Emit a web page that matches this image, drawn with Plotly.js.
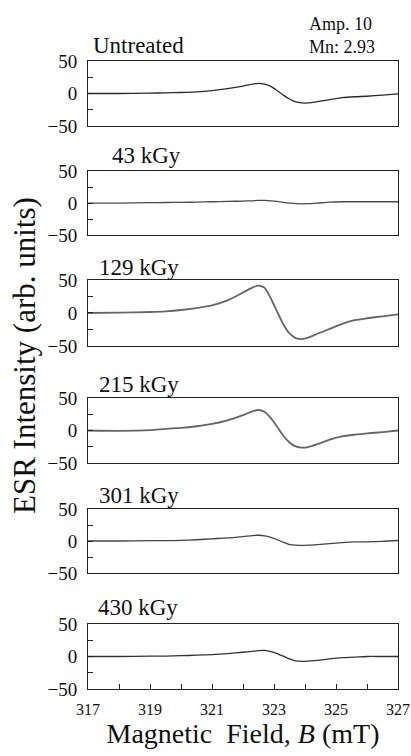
<!DOCTYPE html>
<html>
<head>
<meta charset="utf-8">
<script src="https://cdn.plot.ly/plotly-3.0.1.min.js"></script>
<style>html,body{margin:0;padding:0;background:#fff;}#chart{width:411px;height:756px;}</style>
</head>
<body>
<div id="chart"></div>
<script>
// Magnetic field (mT)
const field = [317, 318, 319, 319.5, 320, 320.5, 321, 321.5, 322, 322.3, 322.5, 322.7, 322.9, 323.1, 323.3, 323.5, 323.7, 323.9, 324.1, 324.4, 324.8, 325.2, 325.6, 326, 326.5, 327];

const panelLabels = ["Untreated", "43 kGy", "129 kGy", "215 kGy", "301 kGy", "430 kGy"];

const untreated = [0, 0, 0.5, 1, 1.5, 2.5, 4.5, 7.5, 11.5, 14.5, 15.5, 14.5, 11, 4.5, -2.5, -8.5, -13, -14.5, -14.5, -12.5, -9.5, -6.5, -5, -4.2, -2.5, -0.5];
const kGy43 = [0, 0, 0.5, 0.8, 1, 1.5, 2, 2.5, 3, 3.5, 4, 4, 3.5, 2.5, 1, 0, -1, -1.2, -1, 0, 1.5, 2, 2, 2, 2, 2];
const kGy129 = [0, 0.5, 1.5, 2.5, 4.5, 7.5, 11.5, 19, 31, 38.5, 41.5, 38, 22, 2, -17, -31, -38, -39.5, -37.5, -31.5, -24, -16.5, -11, -8, -5, -2];
const kGy215 = [0, -0.5, 0.5, 2.5, 4, 6.5, 10, 15.5, 23.5, 29.5, 31.5, 28.5, 19, 6, -8, -18.5, -24.5, -26.5, -25.5, -21, -14, -9, -6.5, -4.5, -2.5, 0];
const kGy301 = [0, 0, 0.5, 0.5, 1, 2, 3.5, 4.8, 7, 8.5, 9, 8, 5.5, 2, -2, -5.5, -6.5, -6.8, -6.5, -5.5, -4, -2.5, -1.5, -1.2, -0.5, 0.8];
const kGy430 = [0, 0, 0.5, 0.7, 1.2, 2, 3, 4.5, 6.5, 8, 9, 9.3, 7.5, 4.5, 0.5, -3.8, -6.8, -7.4, -7, -6, -3.5, -1.8, -1, 0, 0, 0];

const series = [untreated, kGy43, kGy129, kGy215, kGy301, kGy430];

const yTickVals = [-50, -25, 0, 25, 50];
const yTickText = ["\u221250", "", "0", "", "50"];
const xTickVals = [317, 318, 319, 320, 321, 322, 323, 324, 325, 326, 327];
const xTickText = ["317", "", "319", "", "321", "", "323", "", "325", "", "327"];

const lineColors = ["#2a2a2a", "#4a4a4a", "#666666", "#666666", "#444444", "#333333"];
const lineWidths = [1.3, 1.3, 1.8, 1.8, 1.3, 1.3];

// panel domains (paper fractions)
const domains = [[0.8965, 1.0], [0.7229, 0.8248], [0.5462, 0.6513], [0.3599, 0.4634], [0.1847, 0.2866], [0, 0.1035]];
const labelPos = [[0.0097, 1.0239], [0.071, 0.8495], [0.029, 0.6712], [0.029, 0.4849], [0.029, 0.3089], [0.026, 0.1298]];

const FONT = "Liberation Serif";
const frame = "#222";

const traces = series.map((s, i) => ({
  x: field, y: s, type: "scatter", mode: "lines",
  line: {color: lineColors[i], width: lineWidths[i], shape: "spline", smoothing: 0.6},
  xaxis: i === 0 ? "x" : "x" + (i + 1),
  yaxis: i === 0 ? "y" : "y" + (i + 1),
  hoverinfo: "skip", showlegend: false
}));

const layout = {
  width: 411, height: 756,
  margin: {l: 88, r: 13, t: 61, b: 67},
  paper_bgcolor: "#fff", plot_bgcolor: "#fff",
  font: {family: FONT, color: "#111"},
  showlegend: false,
  annotations: []
};

for (let i = 0; i < 6; i++) {
  const n = i === 0 ? "" : String(i + 1);
  const isBottom = i === 5;
  layout["xaxis" + n] = {
    domain: [0, 1], range: [317, 327], anchor: "y" + n,
    showline: true, mirror: true, linecolor: frame, linewidth: 1,
    showgrid: false, zeroline: false,
    ticks: isBottom ? "inside" : "", ticklen: 5, tickcolor: frame, tickwidth: 1,
    tickvals: xTickVals, ticktext: xTickText,
    showticklabels: isBottom,
    ticklabelstandoff: 6,
    tickfont: {family: FONT, size: 16, color: "#111"},
    fixedrange: true
  };
  if (isBottom) {
    layout["xaxis" + n].title = {
      text: "Magnetic&nbsp; Field, <i>B</i> (mT)",
      font: {family: FONT, size: 28, color: "#111"},
      standoff: 6
    };
  }
  layout["yaxis" + n] = {
    domain: domains[i], range: [-50, 50], anchor: "x" + n,
    showline: true, mirror: true, linecolor: frame, linewidth: 1,
    showgrid: false, zeroline: false,
    ticks: "inside", ticklen: 5, tickcolor: frame, tickwidth: 1,
    tickvals: yTickVals, ticktext: yTickText,
    ticklabelstandoff: 6,
    tickfont: {family: FONT, size: 19, color: "#111"},
    fixedrange: true
  };
  layout.annotations.push({
    text: panelLabels[i], xref: "paper", yref: "paper",
    x: labelPos[i][0], y: labelPos[i][1], xanchor: "left", yanchor: "middle",
    showarrow: false, font: {family: FONT, size: 23, color: "#111"}
  });
}

layout.annotations.push({
  text: "Amp. 10", xref: "paper", yref: "paper", x: 0.7065, y: 1.0589,
  xanchor: "left", yanchor: "middle", showarrow: false,
  font: {family: FONT, size: 18, color: "#111"}
});
layout.annotations.push({
  text: "Mn: 2.93", xref: "paper", yref: "paper", x: 0.7065, y: 1.0223,
  xanchor: "left", yanchor: "middle", showarrow: false,
  font: {family: FONT, size: 18, color: "#111"}
});
layout.annotations.push({
  text: "ESR Intensity (arb. units)", xref: "paper", yref: "paper",
  x: (25 - 88) / 310, y: (689 - 356) / 628, xanchor: "center", yanchor: "middle",
  textangle: -90, showarrow: false,
  font: {family: FONT, size: 31, color: "#111"}
});

Plotly.newPlot("chart", traces, layout, {staticPlot: true, displayModeBar: false});
</script>
</body>
</html>
